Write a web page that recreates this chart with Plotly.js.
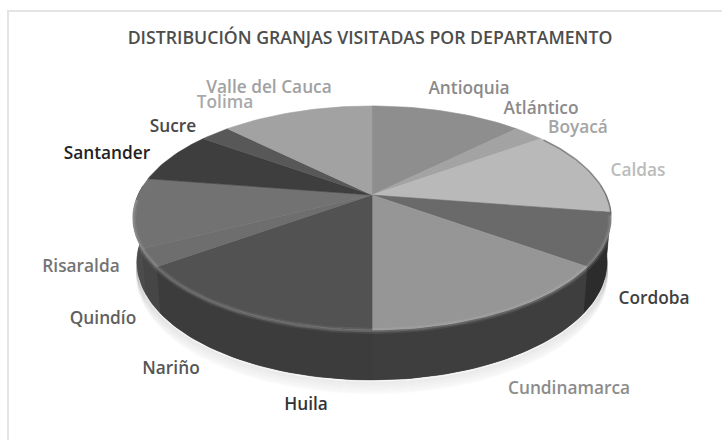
<!DOCTYPE html>
<html><head><meta charset="utf-8">
<script src="https://cdn.plot.ly/plotly-3.0.1.min.js"></script>
<style>html,body{margin:0;padding:0;background:#fff}#c{width:722px;height:440px}</style>
</head><body><div id="c"></div>
<script>
const departamentos = ["Antioquia","Atlántico","Boyacá","Caldas","Cordoba","Cundinamarca","Huila","Nariño","Quindío","Risaralda","Santander","Sucre","Tolima","Valle del Cauca"];
const granjas = [5,1,0,5,3,6,6,0,1,4,3,1,0,5];
const coloresCara = ["#8e8e8e","#a3a3a3","#a5a5a5","#b9b9b9","#6a6a6a","#969696","#525252","#5c5c5c","#6e6e6e","#727272","#3e3e3e","#585858","#a8a8a8","#a2a2a2"];
const coloresLado = ["#5a5a5a","#5a5a5a","#5a5a5a","#5a5a5a","#2c2c2c","#3e3e3e","#3c3c3c","#404040","#464646","#4c4c4c","#2a2a2a","#3a3a3a","#5a5a5a","#5a5a5a"];
const coloresEtiqueta = ["#8a8a8a","#8a8a8a","#a4a4a4","#bbbbbb","#404040","#8c8c8c","#333333","#555555","#606060","#747474","#222222","#474747","#a9a9a9","#a1a1a1"];
const posEtiquetaX = [469,541,578,638,654,569,306,171,103,81,107,173,225,269];
const posEtiquetaY = [90,110,129,172,300,390,406,370,320,268,155,128,104,89];
const titulo = "DISTRIBUCIÓN GRANJAS VISITADAS POR DEPARTAMENTO";

// projection of the pie disc and of the lower edge of its wall
const CX=372, CY=195, RX=234, RY=107.3, K=-0.205;
const ECY=218, EA=239, EB=112, BCY=262, BA=235, BB=118;
function punto(deg){
  const t=deg*Math.PI/180, X=Math.sin(t), Y=-Math.cos(t), w=1+K*Y;
  return [CX+RX*X/w, CY+RY*Y/w];
}
function puntoBase(deg,extra){
  const p=punto(deg);
  return [CX+(p[0]-CX)*BA/EA, BCY+(p[1]-ECY)*BB/EB+(extra||0)];
}
function arco(a,b,f,extra){
  const n=Math.max(2,Math.ceil((b-a)/1.5)), xs=[], ys=[];
  for(let i=0;i<=n;i++){const p=f(a+(b-a)*i/n,extra);xs.push(p[0]);ys.push(p[1]);}
  return [xs,ys];
}
const traces=[];
function poly(xs,ys,fill,opts){
  traces.push(Object.assign({type:'scatter',mode:'lines',x:xs,y:ys,fill:'toself',fillcolor:fill,
    line:{width:0,color:fill},hoverinfo:'skip',showlegend:false},opts||{}));
}
function linea(xs,ys,w,c){
  traces.push({type:'scatter',mode:'lines',x:xs,y:ys,line:{width:w,color:c},hoverinfo:'skip',showlegend:false});
}
// soft shadow under the body
for(let s=14;s>=1;s-=1){
  const [ax,ay]=arco(75,285,puntoBase,1+s*0.9);
  linea(ax,ay,2.2,'rgba(120,120,120,'+(0.055*(15-s)/14+0.012)+')');
}
const total=granjas.reduce((a,b)=>a+b,0);
let ang=0; const cortes=[];
granjas.forEach((g,i)=>{const d=g/total*360;cortes.push([ang,ang+d,i]);ang+=d;});
// side wall
const [wtx,wty]=arco(85,275,punto), [wbx,wby]=arco(85,275,puntoBase);
poly(wtx.concat(wbx.slice().reverse()),wty.concat(wby.slice().reverse()),'#3c3c3c');
cortes.forEach(([a,b,i])=>{
  if(b<=a) return;
  const lo=Math.max(a,85), hi=Math.min(b,275);
  if(hi<=lo) return;
  const [tx,ty]=arco(lo,hi,punto), [bx,by]=arco(lo,hi,puntoBase);
  poly(tx.concat(bx.slice().reverse()),ty.concat(by.slice().reverse()),coloresLado[i],{line:{width:0.5,color:coloresLado[i]}});
});
// top face
cortes.forEach(([a,b,i])=>{
  if(b<=a) return;
  const [ax,ay]=arco(a,b,punto);
  poly([CX].concat(ax,[CX]),[CY].concat(ay,[CY]),coloresCara[i],{line:{width:0.6,color:coloresCara[i]}});
});
// bevel highlight on the front rim
cortes.forEach(([a,b,i])=>{
  if(b<=a) return;
  const lo=Math.max(a,100), hi=Math.min(b,268);
  if(hi<=lo) return;
  const [ax,ay]=arco(lo,hi,punto);
  const ay1=ay.map(v=>v+1);
  linea(ax,ay1,6,'rgba(255,255,255,0.07)');
  linea(ax,ay1,2.5,'rgba(255,255,255,0.15)');
});
// dark edge on the upper right
const [ex,ey]=arco(55,99,punto);
linea(ex,ey,1.6,'rgba(60,60,60,0.45)');
// labels
traces.push({type:'scatter',mode:'text',x:posEtiquetaX,y:posEtiquetaY,text:departamentos,
  textposition:'middle center',textfont:{family:'"Open Sans",sans-serif',size:17.3,weight:600,color:coloresEtiqueta},hoverinfo:'skip',showlegend:false});
const layout={width:722,height:440,margin:{l:0,r:0,t:0,b:0},paper_bgcolor:'#fff',plot_bgcolor:'#fff',showlegend:false,
  title:{text:titulo,x:0.5125,xanchor:'center',xref:'paper',y:0.913,yanchor:'middle',font:{family:'"Open Sans",sans-serif',size:17.7,weight:600,color:'#4d4d4d'}},
  xaxis:{range:[0,722],visible:false,fixedrange:true},
  yaxis:{range:[440,0],visible:false,fixedrange:true},
  shapes:[{type:'rect',xref:'x',yref:'y',x0:8,y0:11,x1:760,y1:470,line:{color:'#e4e4e4',width:2}}]};
Plotly.newPlot('c',traces,layout,{displayModeBar:false,staticPlot:true});
</script></body></html>
